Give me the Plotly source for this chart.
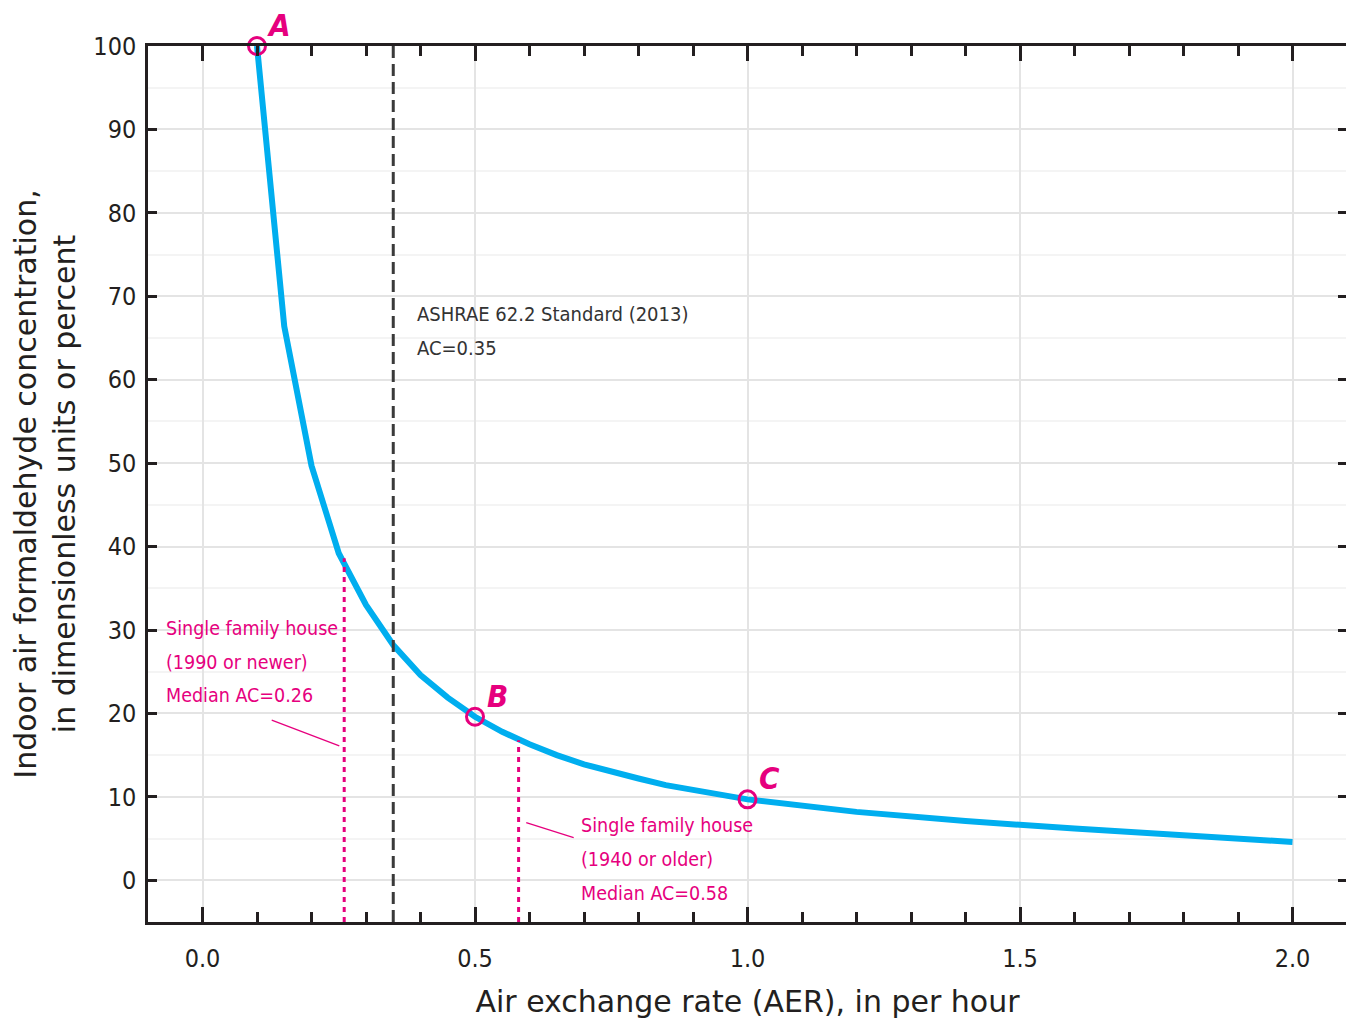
import plotly.graph_objects as go

# ---- data ----
aer = [0.1, 0.15, 0.2, 0.25, 0.3, 0.35, 0.4, 0.45, 0.5, 0.55, 0.6, 0.65, 0.7, 0.75, 0.8,
       0.85, 0.9, 0.95, 1.0, 1.2, 1.4, 1.6, 1.8, 2.0]
conc = [100, 66.4, 49.7, 39.2, 33.0, 28.2, 24.6, 21.9, 19.6, 17.8, 16.3, 15.0, 13.9, 13.0, 12.2,
        11.4, 10.8, 10.2, 9.7, 8.2, 7.1, 6.2, 5.4, 4.6]

point_labels = ["A", "B", "C"]
point_x = [0.1, 0.5, 1.0]
point_y = [100, 19.6, 9.7]

ashrae_x = 0.35
ashrae_lines = ["ASHRAE 62.2 Standard (2013)", "AC=0.35"]
ashrae_text_x = 0.389
ashrae_text_y = [67.9, 63.8]

median_x = [0.26, 0.58]
median_top = [38.6, 16.8]
median_text_x = [-0.07, 0.69]
median_text_y = [[30.2, 26.1, 22.1], [6.6, 2.5, -1.55]]
median_lines = [["Single family house", "(1990 or newer)", "Median AC=0.26"],
                ["Single family house", "(1940 or older)", "Median AC=0.58"]]
leader_x0 = [0.127, 0.594]
leader_y0 = [19.2, 6.9]
leader_x1 = [0.251, 0.681]
leader_y1 = [16.1, 5.1]

x_ticks = [0.0, 0.5, 1.0, 1.5, 2.0]
x_ticklabels = ["0.0", "0.5", "1.0", "1.5", "2.0"]
y_ticks = [0, 10, 20, 30, 40, 50, 60, 70, 80, 90, 100]

# ---- styles ----
MAG = "#e6007e"
CYAN = "#00aeef"
AXC = "#231f20"
NARROW = "DejaVu Sans Condensed, Liberation Sans Narrow, sans-serif"
WIDE = "DejaVu Sans, Verdana, sans-serif"

fig = go.Figure()

# curve
fig.add_trace(go.Scatter(x=aer, y=conc, mode="lines",
                         line=dict(color=CYAN, width=6), hoverinfo="skip",
                         showlegend=False, cliponaxis=False))

# open circles
fig.add_trace(go.Scatter(x=point_x, y=point_y, mode="markers",
                         marker=dict(symbol="circle-open", size=17, color=MAG,
                                     line=dict(width=3, color=MAG)),
                         showlegend=False, cliponaxis=False))

# ASHRAE vertical dashed line
fig.add_shape(type="line", x0=ashrae_x, x1=ashrae_x, y0=0, y1=1, yref="paper", xref="x",
              line=dict(color="#3a3a3a", width=3, dash="12px,6px"), layer="above")

# median dotted lines and leaders
for i in range(len(median_x)):
    fig.add_shape(type="line", x0=median_x[i], x1=median_x[i], y0=-5, y1=median_top[i],
                  line=dict(color=MAG, width=3, dash="5px,5px"), layer="above")
    fig.add_shape(type="line", x0=leader_x0[i], y0=leader_y0[i], x1=leader_x1[i], y1=leader_y1[i],
                  line=dict(color=MAG, width=1.3), layer="above")
    for j, t in enumerate(median_lines[i]):
        fig.add_annotation(x=median_text_x[i], y=median_text_y[i][j], text=t, showarrow=False,
                           xanchor="left", yanchor="middle",
                           font=dict(family=NARROW, size=19.5, color=MAG))

for j, t in enumerate(ashrae_lines):
    fig.add_annotation(x=ashrae_text_x, y=ashrae_text_y[j], text=t, showarrow=False,
                       xanchor="left", yanchor="middle",
                       font=dict(family=NARROW, size=20, color="#333333"))

for lab, px, py in zip(point_labels, point_x, point_y):
    fig.add_annotation(x=px, y=py, text="<b><i>%s</i></b>" % lab, showarrow=False,
                       xanchor="center", yanchor="middle", xshift=22, yshift=21,
                       font=dict(family=NARROW, size=31, color=MAG))

fig.update_layout(
    width=1354, height=1027,
    margin=dict(l=140, r=15, t=38, b=113),
    paper_bgcolor="white", plot_bgcolor="white",
    showlegend=False,
    font=dict(family=NARROW, color=AXC),
)

fig.update_xaxes(
    range=[-0.1, 2.1], tickvals=x_ticks, ticktext=x_ticklabels,
    showgrid=True, gridcolor="#e4e4e4", gridwidth=1.5,
    zeroline=False,
    showline=True, linecolor=AXC, linewidth=2.5, mirror="ticks",
    ticks="inside", ticklen=15, tickwidth=2.5, tickcolor=AXC,
    minor=dict(dtick=0.1, tick0=0, ticks="inside", ticklen=10, tickwidth=2.5,
               tickcolor=AXC, showgrid=False),
    tickfont=dict(family=NARROW, size=25, color=AXC),
    ticklabelstandoff=12,
    title=dict(text="Air exchange rate (AER), in per hour",
               font=dict(family=WIDE, size=30, color=AXC), standoff=20),
)

fig.update_yaxes(
    range=[-5, 100], tickvals=y_ticks,
    showgrid=True, gridcolor="#e4e4e4", gridwidth=1.5,
    zeroline=False,
    showline=True, linecolor=AXC, linewidth=2.5, mirror="ticks",
    ticks="inside", ticklen=9, tickwidth=2.5, tickcolor=AXC,
    minor=dict(dtick=5, tick0=0, ticks="", showgrid=True, gridcolor="#f4f4f4", gridwidth=1.5),
    tickfont=dict(family=NARROW, size=25, color=AXC),
    ticklabelstandoff=4,
    title=dict(text="Indoor air formaldehyde concentration,<br>in dimensionless units or percent",
               font=dict(family=WIDE, size=30, color=AXC), standoff=12),
)

fig.write_html("out.html")
